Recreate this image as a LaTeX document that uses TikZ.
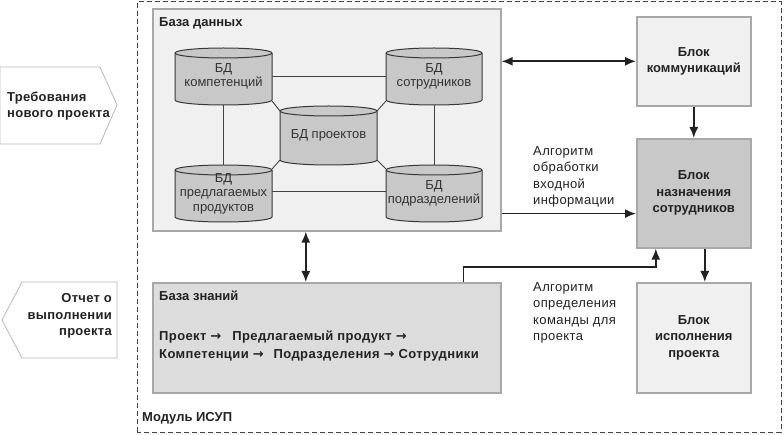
\documentclass[tikz,border=0pt]{standalone}
\usepackage{fontspec}
\setmainfont{Liberation Sans}
\newfontfamily\arrowfont{DejaVu Sans}
\usetikzlibrary{arrows.meta,calc}
\definecolor{boxlight}{HTML}{F0F0F0}
\definecolor{boxmid}{HTML}{DCDCDC}
\definecolor{boxdark}{HTML}{C8C8C8}
\definecolor{cylfill}{HTML}{C8C8C8}
\definecolor{edgegray}{HTML}{A8A8A8}
\definecolor{ink}{HTML}{222222}
\definecolor{txtgray}{HTML}{333333}
\newcommand\ra{{\arrowfont\bfseries →}}
\tikzset{
  panel/.style={draw=edgegray, line width=1.6pt, fill=boxlight, inner sep=0pt, anchor=north west},
  conn/.style={draw=ink, line width=1.6pt},
  arr/.style={conn, -{Latex[length=11pt,width=9pt]}},
  darr/.style={conn, {Latex[length=11pt,width=9pt]}-{Latex[length=11pt,width=9pt]}},
  thinline/.style={draw=ink!85, line width=0.9pt},
  cyl/.style={fill=cylfill, draw=ink!90, line width=1pt},
  btxt/.style={font=\fontsize{13}{16.5}\selectfont\bfseries, align=center, text=ink, inner sep=0pt},
  rtxt/.style={font=\fontsize{13}{14.5}\selectfont, align=center, text=txtgray, inner sep=0pt},
  ltxt/.style={font=\fontsize{13}{16.3}\selectfont\addfontfeature{LetterSpace=3}, align=left, text=ink, inner sep=0pt, anchor=west},
  modbox/.style={draw=ink!85, line width=1pt, dash pattern=on 5pt off 3pt},
  tag/.style={draw=edgegray!80, line width=0.8pt, fill=white},
}
% #1 name, #2 left x, #3 right x, #4 top Y, #5 bottom Y, #6 text
\newcommand\dbcyl[6]{%
  \path[cyl] (#2,#4-5) -- (#2,#5+5)
    arc[start angle=180,end angle=360,x radius={((#3)-(#2))/2*1pt},y radius=5pt]
    -- (#3,#4-5)
    arc[start angle=0,end angle=180,x radius={((#3)-(#2))/2*1pt},y radius=5pt] -- cycle;
  \draw[cyl, fill=none] (#2,#4-5)
    arc[start angle=180,end angle=360,x radius={((#3)-(#2))/2*1pt},y radius=5pt];
  \node[inner sep=0pt, minimum width={((#3)-(#2))*1pt}, minimum height={((#4)-(#5))*1pt}] (#1) at ({((#2)+(#3))/2},{((#4)+(#5))/2}) {};
  \node[rtxt] (#1-t) at (#1.center) {#6};
}
\begin{document}
\begin{tikzpicture}[x=1pt,y=1pt]
\useasboundingbox (0,0) rectangle (784,434);
\fill[white] (0,0) rectangle (784,434);

% outer module
\draw[modbox] (137,2) rectangle (781,432);
\node[btxt, anchor=west] (modlabel) at (142,16) {Модуль ИСУП};

% input / output tags
\draw[tag] (0,367) -- (100,367) -- (117,329) -- (100,290) -- (0,290) -- cycle;
\node[btxt, align=left, anchor=west, font=\fontsize{13}{16.5}\selectfont\bfseries\addfontfeature{LetterSpace=2}] (req) at (7,328) {Требования\\нового проекта};
\draw[tag] (117,152) -- (117,76) -- (22,76) -- (2,114) -- (22,152) -- cycle;
\node[btxt, align=right, anchor=east, font=\fontsize{13}{16.5}\selectfont\bfseries\addfontfeature{LetterSpace=2}] (rep) at (112,118) {Отчет о\\выполнении\\проекта};

% panels
\node[panel, minimum width=348pt, minimum height=222pt] (db) at (152,426) {};
\node[btxt, anchor=west] (dbtitle) at (159,411) {База данных};
\node[panel, minimum width=114pt, minimum height=89pt] (comm) at (636,418) {};
\node[btxt] (commt) at (comm.center) {Блок\\коммуникаций};
\node[panel, fill=boxdark, minimum width=114pt, minimum height=109pt] (assign) at (636,296) {};
\node[btxt] (assignt) at (assign.center) {Блок\\назначения\\сотрудников};
\node[panel, minimum width=114pt, minimum height=110pt] (exec) at (636,152) {};
\node[btxt] (exect) at (exec.center) {Блок\\исполнения\\проекта};
\node[panel, fill=boxmid, minimum width=348pt, minimum height=110pt] (kb) at (152,152) {};
\node[btxt, anchor=west] (kbtitle) at (159,138) {База знаний};
\node[btxt, align=left, anchor=west, font=\fontsize{13}{18}\selectfont\bfseries\addfontfeature{LetterSpace=3}] (chain) at (159,88)
  {Проект \ra\hspace{7pt} Предлагаемый продукт \ra\\Компетенции \ra\hspace{6pt} Подразделения \ra\ Сотрудники};

% cylinders
\dbcyl{comp}{175}{272}{386}{329}{БД\\компетенций}
\dbcyl{proj}{280}{377}{328}{269}{БД проектов}
\dbcyl{prod}{175}{272}{269}{212}{БД\\предлагаемых\\продуктов}
\dbcyl{staff}{386}{482}{386}{329}{БД\\сотрудников}
\dbcyl{dept}{386}{482}{269}{212}{БД\\подразделений}

% links between databases
\draw[thinline] (comp.east) -- (staff.west);
\draw[thinline] (comp.south) -- (prod.north);
\draw[thinline] (staff.south) -- (dept.north);
\draw[thinline] ([yshift=2pt]prod.east) -- ([yshift=2pt]dept.west);
\draw[thinline] ([yshift=4pt]comp.south east) -- ([yshift=-5pt]proj.north west);
\draw[thinline] ([yshift=4pt]staff.south west) -- ([yshift=-5pt]proj.north east);
\draw[thinline] ([yshift=-4pt]prod.north east) -- ([yshift=5pt]proj.south west);
\draw[thinline] ([yshift=-4pt]dept.north west) -- ([yshift=5pt]proj.south east);

% arrows
\draw[darr] (db.east |- comm.west) -- (comm.west);
\draw[arr] (comm.south) -- (assign.north);
\coordinate (dbout) at ([yshift=18pt]db.south east);
\draw[arr] (dbout) -- (assign.west |- dbout);
\draw[darr] ([xshift=-21pt]db.south) -- ([xshift=-21pt]kb.north);
\draw[arr] ([xshift=-38pt]kb.north east) -- ++(0,15) -| ([xshift=-38pt]assign.south);
\draw[arr] ([xshift=11pt]assign.south) -- ([xshift=11pt]exec.north);

% algorithm labels
\node[ltxt] (alg1) at (533,257) {Алгоритм\\обработки\\входной\\информации};
\node[ltxt] (alg2) at (533,121) {Алгоритм\\определения\\команды для\\проекта};
\end{tikzpicture}
\end{document}
